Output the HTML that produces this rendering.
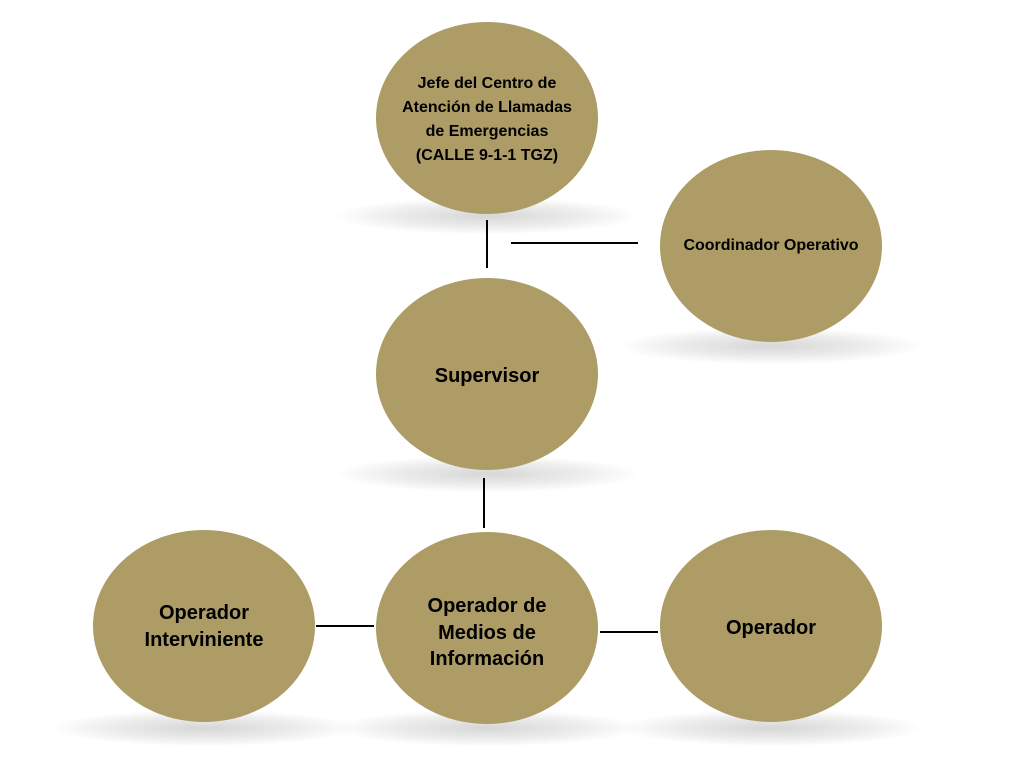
<!DOCTYPE html>
<html><head><meta charset="utf-8"><style>
body{margin:0;width:1024px;height:768px;background:#fff;position:relative;overflow:hidden;font-family:"Liberation Sans",Arial,sans-serif;}
.c{position:absolute;width:222px;height:192px;border-radius:50%;background:#ad9c65;display:flex;align-items:center;justify-content:center;text-align:center;font-weight:bold;color:#000;box-sizing:border-box;}
.s{position:absolute;width:300px;height:36px;border-radius:50%;background:radial-gradient(ellipse at center,rgba(0,0,0,0.16) 0%,rgba(0,0,0,0.07) 45%,rgba(0,0,0,0) 72%);}
.l{position:absolute;background:#000;}
</style></head><body>
<div class="s" style="left:337px;top:198px"></div>
<div class="s" style="left:621px;top:328px"></div>
<div class="s" style="left:337px;top:456px"></div>
<div class="s" style="left:54px;top:710px"></div>
<div class="s" style="left:337px;top:710px"></div>
<div class="s" style="left:621px;top:710px"></div>

<div class="c" style="left:376px;top:22px;font-size:16px;line-height:24px;padding-top:4px">Jefe del Centro de<br>Atención de Llamadas<br>de Emergencias<br>(CALLE 9-1-1 TGZ)</div>
<div class="c" style="left:660px;top:150px;font-size:16px;padding-top:0px">Coordinador Operativo</div>
<div class="c" style="left:376px;top:278px;font-size:20px;padding-top:4px">Supervisor</div>
<div class="c" style="left:93px;top:530px;font-size:20px;line-height:27px;padding-top:2px">Operador<br>Interviniente</div>
<div class="c" style="left:376px;top:532px;font-size:20px;line-height:26.5px;padding-top:10px">Operador de<br>Medios de<br>Información</div>
<div class="c" style="left:660px;top:530px;font-size:20px;padding-top:4px">Operador</div>

<div class="l" style="left:486px;top:220px;width:2px;height:48px"></div>
<div class="l" style="left:511px;top:242px;width:127px;height:2px"></div>
<div class="l" style="left:483px;top:478px;width:2px;height:50px"></div>
<div class="l" style="left:316px;top:625px;width:58px;height:2px"></div>
<div class="l" style="left:600px;top:631px;width:58px;height:2px"></div>
</body></html>
